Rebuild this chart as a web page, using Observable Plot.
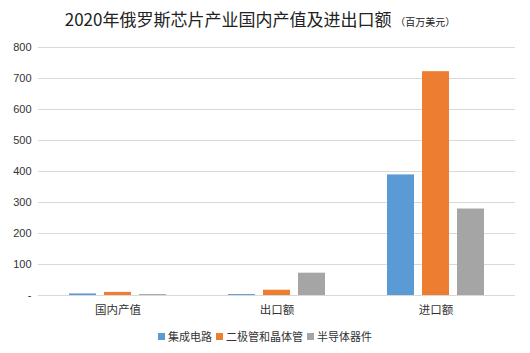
<!DOCTYPE html>
<html><head><meta charset="utf-8">
<script src="https://cdn.jsdelivr.net/npm/d3@7"></script>
<script src="https://cdn.jsdelivr.net/npm/@observablehq/plot@0.6"></script>
<style>
body{margin:0;background:#fff;}
#wrap{position:relative;width:530px;height:353px;overflow:hidden;font-family:"Liberation Sans","Noto Sans CJK SC",sans-serif;}
#title{position:absolute;top:9px;left:-5px;width:530px;text-align:center;font-size:17px;line-height:20px;color:#222;font-family:"Noto Sans CJK SC",sans-serif;}
#title small{font-size:10px;}
#chart{position:absolute;top:36px;left:0;}
#legend{position:absolute;top:328px;left:0;width:530px;display:flex;justify-content:center;gap:4px;font-size:11px;line-height:16px;color:#333;font-family:"Noto Sans CJK SC",sans-serif;}
#legend span.item{display:flex;align-items:center;}
#legend i{display:inline-block;width:7px;height:7px;margin-right:3px;}
</style></head>
<body><div id="wrap">
<div id="title">2020年俄罗斯芯片产业国内产值及进出口额 <small>（百万美元）</small></div>
<div id="chart"></div>
<div id="legend"></div>
</div>
<script>
const categories = ["国内产值", "出口额", "进口额"];
const series = ["集成电路", "二极管和晶体管", "半导体器件"];
const icValues = [5, 3, 389];
const diodeValues = [10, 17, 722];
const deviceValues = [3, 72, 279];
const colors = ["#5B9BD5", "#ED7D31", "#A5A5A5"];
const yTicks = [0, 100, 200, 300, 400, 500, 600, 700, 800];

const seriesValues = [icValues, diodeValues, deviceValues];
const data = [];
categories.forEach((c, i) => series.forEach((s, j) => data.push({category: c, series: s, value: seriesValues[j][i]})));

const plot = Plot.plot({
  width: 530,
  height: 289,
  marginLeft: 37,
  marginRight: 14,
  marginTop: 11,
  marginBottom: 30,
  style: {fontFamily: '"Liberation Sans","Noto Sans CJK SC",sans-serif', fontSize: "11px", color: "#333", background: "transparent"},
  fx: {domain: categories, padding: 0, label: null, axis: "bottom", tickSize: 0, tickPadding: 10},
  x: {domain: series, axis: null, paddingInner: 0.23, paddingOuter: 0.85},
  y: {domain: [0, 800], ticks: yTicks, tickSize: 0, tickPadding: 7, label: null, tickFormat: d => d === 0 ? "-" : d},
  color: {domain: series, range: colors},
  facet: {data: data, x: "category"},
  marks: [
    Plot.ruleY(yTicks, {stroke: "#d9d9d9", strokeWidth: 1, facet: false}),
    Plot.barY(data, {x: "series", y: "value", fill: "series"})
  ]
});
d3.select(plot).selectAll('[aria-label^="fx-axis"] text').attr("font-size", 11.5).attr("font-family", '"Noto Sans CJK SC",sans-serif');
document.getElementById("chart").appendChild(plot);

const legend = d3.select("#legend");
series.forEach((s, i) => {
  const it = legend.append("span").attr("class", "item");
  it.append("i").style("background", colors[i]);
  it.append("span").text(s);
});
</script>
</body></html>
